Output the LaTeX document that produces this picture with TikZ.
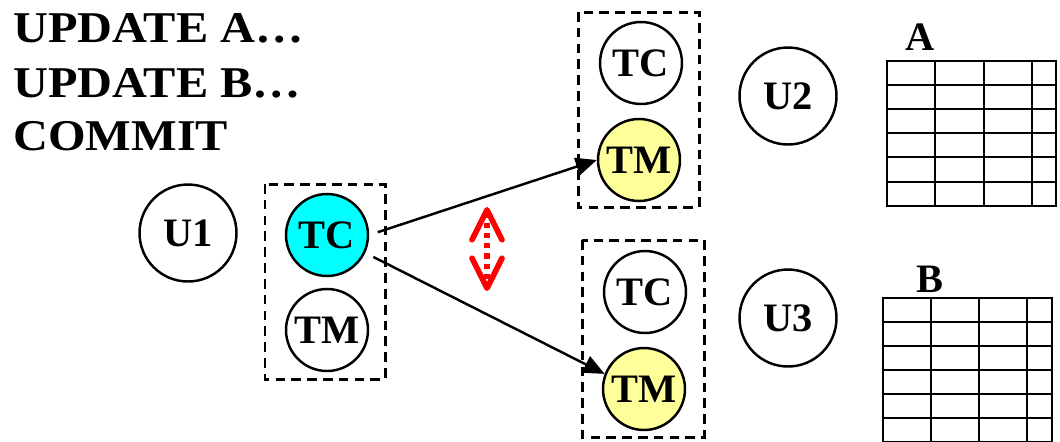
\documentclass[tikz,border=0pt]{standalone}
\usepackage{fontspec}
\setmainfont{Liberation Serif}
\usepackage{xcolor}
\usetikzlibrary{arrows.meta}
\definecolor{tc-cyan}{HTML}{00FFFF}
\definecolor{tm-yellow}{HTML}{FFFF99}
\tikzset{
    big-font/.style = {font=\bfseries\fontsize{23pt}{28pt}\selectfont},
    user-node/.style = {draw, circle, line width=1.4pt, minimum size=1.94cm, inner sep=0pt, big-font},
    tx-node/.style = {user-node, minimum size=1.64cm},
    group-box/.style = {draw, line width=1.7pt, dash pattern=on 5.5pt off 3.5pt},
    table-grid/.style = {line width=1.6pt, line cap=rect},
    label-text/.style = {big-font, inner sep=0pt, anchor=base west},
    title-text/.style = {label-text, font=\bfseries\fontsize{25pt}{30pt}\selectfont, xscale=1.1, transform shape},
    msg-arrow/.style = {-{Triangle[length=0.42cm, width=0.36cm]}, line width=1.4pt, shorten <=0.18cm},
    conflict-arrow/.style = {red, line width=3.2pt, dash pattern=on 3pt off 2.8pt,
        {Straight Barb[length=0.6cm, width=0.6cm, round]}-{Straight Barb[length=0.6cm, width=0.6cm, round]}},
}

\begin{document}
\begin{tikzpicture}[x=0.02cm, y=-0.02cm]
\useasboundingbox (0,0) rectangle (1060,441);

% the statements of the transaction
\node[title-text] (line1) at (13,42) {UPDATE A…};
\node[title-text] (line2) at (13,97) {UPDATE B…};
\node[title-text] (line3) at (13,150) {COMMIT};

% site of U1
\node[user-node] (u1) at (188,233) {U1};
\node[tx-node, fill=tc-cyan] (tc1) at (327,235) {TC};
\node[tx-node] (tm1) at (327,330) {TM};
\draw[group-box] (265,184) rectangle (385,379);

% site of U2
\node[tx-node] (tc2) at (641,63) {TC};
\node[tx-node, fill=tm-yellow] (tm2) at (639,160) {TM};
\draw[group-box] (578,12) rectangle (699,207);
\node[user-node] (u2) at (788,96) {U2};

% site of U3
\node[tx-node] (tc3) at (645,292) {TC};
\node[tx-node, fill=tm-yellow] (tm3) at (644,389) {TM};
\draw[group-box] (582,240) rectangle (704,437);
\node[user-node] (u3) at (788,318) {U3};

% messages
\draw[msg-arrow] (tc1.east) -- (tm2.west);
\draw[msg-arrow] (tc1.-25) -- (tm3.159);

\coordinate (warn-top) at (487,207);
\coordinate (warn-bot) at (487,291);
\draw[conflict-arrow] (warn-top) -- (warn-bot);

% table A
\node[label-text, anchor=base] (lab-a) at (920,50) {A};
\foreach \y in {61,85,109,133,157,182,206}
    \draw[table-grid] (887,\y) -- (1056,\y);
\foreach \x in {887,935,984,1032,1056}
    \draw[table-grid] (\x,61) -- (\x,206);

% table B
\node[label-text, anchor=base] (lab-b) at (930,292) {B};
\foreach \y in {298,322,346,370,394,418,442}
    \draw[table-grid] (883,\y) -- (1052,\y);
\foreach \x in {883,931,979,1027,1052}
    \draw[table-grid] (\x,298) -- (\x,442);
\end{tikzpicture}
\end{document}
